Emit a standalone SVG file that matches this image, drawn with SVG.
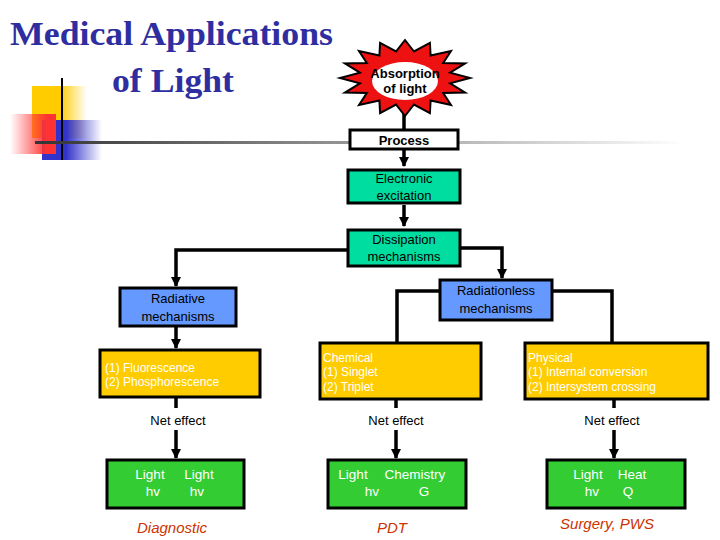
<svg xmlns="http://www.w3.org/2000/svg" width="720" height="540" viewBox="0 0 720 540">
<defs>
<style>
.b{stroke:#000;stroke-width:3}
.t{font-family:"Liberation Sans",Arial,sans-serif;font-size:13px;text-anchor:middle}
.g{font-family:"Liberation Sans",Arial,sans-serif;font-size:13.5px;text-anchor:middle;fill:#fff}
.w{font-family:"Liberation Sans",Arial,sans-serif;font-size:12px;fill:#fff}
.r{font-family:"Liberation Sans",Arial,sans-serif;font-size:15px;font-style:italic;fill:#CC3300;text-anchor:middle}
.c{fill:none;stroke:#000;stroke-width:3.5}
</style>
<marker id="a" viewBox="0 0 10 10" refX="9" refY="5" markerWidth="3" markerHeight="3" orient="auto"><path d="M0,0L10,5L0,10z"/></marker>
<linearGradient id="hl" x1="0" x2="1"><stop offset="0" stop-color="#333"/><stop offset="0.5" stop-color="#999"/><stop offset="1" stop-color="#fff"/></linearGradient>
<linearGradient id="gy" x1="0" x2="1"><stop offset="0.5" stop-color="#FFCC00"/><stop offset="1" stop-color="#FFCC00" stop-opacity="0"/></linearGradient>
<linearGradient id="gb" x1="0" x2="1"><stop offset="0.4" stop-color="#3333CC"/><stop offset="1" stop-color="#3333CC" stop-opacity="0"/></linearGradient>
<linearGradient id="gr" x1="1" x2="0"><stop offset="0.2" stop-color="#FF3333"/><stop offset="1" stop-color="#FF3333" stop-opacity="0"/></linearGradient>
</defs>
<g id="decor">
<rect x="32" y="86" width="55" height="52" fill="url(#gy)"/>
<rect x="42" y="120" width="60" height="40" fill="url(#gb)"/>
<rect x="10" y="114" width="46" height="40" fill="url(#gr)"/>
<line x1="62" y1="78" x2="62" y2="160" stroke="#000" stroke-width="2"/>
<rect x="35" y="141" width="650" height="3" fill="url(#hl)"/>
</g>
<g id="title" font-family="Liberation Serif,serif" font-size="34" font-weight="bold" fill="#2E2EA0">
<text x="10" y="45" textLength="323" lengthAdjust="spacingAndGlyphs">Medical Applications</text>
<text x="112" y="92" textLength="122" lengthAdjust="spacingAndGlyphs">of Light</text>
</g>
<g id="connectors" class="c">
<path d="M404,112V130"/>
<path d="M404,149V166" marker-end="url(#a)"/>
<path d="M404,205V226" marker-end="url(#a)"/>
<path d="M348,250H176V286" marker-end="url(#a)"/>
<path d="M460,248H502V278" marker-end="url(#a)"/>
<path d="M440,291H397V343"/>
<path d="M552,291H612V343"/>
<path d="M176,326V348" marker-end="url(#a)"/>
<path d="M176,397V408M176,430V458" marker-end="url(#a)"/>
<path d="M396,399V408M396,430V458" marker-end="url(#a)"/>
<path d="M614,399V408M614,430V458" marker-end="url(#a)"/>
</g>
<g id="absorption">
<polygon fill="#EE1111" stroke="#000" stroke-width="2" points="405,40 414,51.5 429.9,42.9 430.6,55.6 451,51.1 443.2,63 465.1,63.4 450.1,72.7 470,78 450.1,83.3 465.1,92.6 443.2,93 451,104.9 430.6,100.4 429.9,113.1 414,104.5 405,116 396,104.5 380.1,113.1 379.4,100.4 359,104.9 366.8,93 344.9,92.6 359.9,83.3 340,78 359.9,72.7 344.9,63.4 366.8,63 359,51.1 379.4,55.6 380.1,42.9 396,51.5"/>
<ellipse cx="405" cy="81" rx="33" ry="19" fill="#fff"/>
<text class="t" x="405" y="78" font-size="11" font-weight="bold">Absorption</text>
<text class="t" x="405" y="93" font-size="11" font-weight="bold">of light</text>
</g>
<g id="process"><rect class="b" x="350" y="130" width="108" height="19" fill="#fff"/><text class="t" x="404" y="145" font-weight="bold">Process</text></g>
<g id="excitation"><rect class="b" x="348" y="170" width="112" height="33" fill="#00DDA0"/><text class="t" x="404" y="183">Electronic</text><text class="t" x="404" y="200">excitation</text></g>
<g id="dissipation"><rect class="b" x="348" y="230" width="112" height="36" fill="#00DDA0"/><text class="t" x="404" y="244">Dissipation</text><text class="t" x="404" y="261">mechanisms</text></g>
<g id="radiative"><rect class="b" x="120" y="288" width="116" height="38" fill="#6699FF"/><text class="t" x="178" y="303" font-size="14">Radiative</text><text class="t" x="178" y="321" font-size="14">mechanisms</text></g>
<g id="radiationless"><rect class="b" x="440" y="280" width="112" height="40" fill="#6699FF"/><text class="t" x="496" y="295" font-size="14">Radiationless</text><text class="t" x="496" y="313" font-size="14">mechanisms</text></g>
<g id="radiative-types"><rect class="b" x="100" y="350" width="160" height="47" fill="#FFCC00"/><text class="w" x="105" y="372">(1) Fluorescence</text><text class="w" x="105" y="386">(2) Phosphorescence</text></g>
<g id="chemical"><rect class="b" x="320" y="343" width="161" height="56" fill="#FFCC00"/><text class="w" x="323" y="362">Chemical</text><text class="w" x="323" y="376">(1) Singlet</text><text class="w" x="323" y="391">(2) Triplet</text></g>
<g id="physical"><rect class="b" x="525" y="343" width="183" height="56" fill="#FFCC00"/><text class="w" x="528" y="362">Physical</text><text class="w" x="528" y="376">(1) Internal conversion</text><text class="w" x="528" y="391">(2) Intersystem crossing</text></g>
<g id="net"><text class="t" x="178" y="425">Net effect</text><text class="t" x="396" y="425">Net effect</text><text class="t" x="612" y="425">Net effect</text></g>
<g id="g1"><rect class="b" x="107" y="460" width="137" height="48" fill="#33CC33"/><text class="g" x="150" y="479">Light</text><text class="g" x="199" y="479">Light</text><text class="g" x="153" y="496">hv</text><text class="g" x="197" y="496">hv</text></g>
<g id="g2"><rect class="b" x="328" y="460" width="138" height="48" fill="#33CC33"/><text class="g" x="353" y="479">Light</text><text class="g" x="415" y="479">Chemistry</text><text class="g" x="372" y="496">hv</text><text class="g" x="424" y="496">G</text></g>
<g id="g3"><rect class="b" x="547" y="460" width="138" height="48" fill="#33CC33"/><text class="g" x="588" y="479">Light</text><text class="g" x="632" y="479">Heat</text><text class="g" x="592" y="496">hv</text><text class="g" x="628" y="496">Q</text></g>
<g id="uses"><text class="r" x="172" y="533">Diagnostic</text><text class="r" x="392" y="533">PDT</text><text class="r" x="607" y="529">Surgery, PWS</text></g>
</svg>
